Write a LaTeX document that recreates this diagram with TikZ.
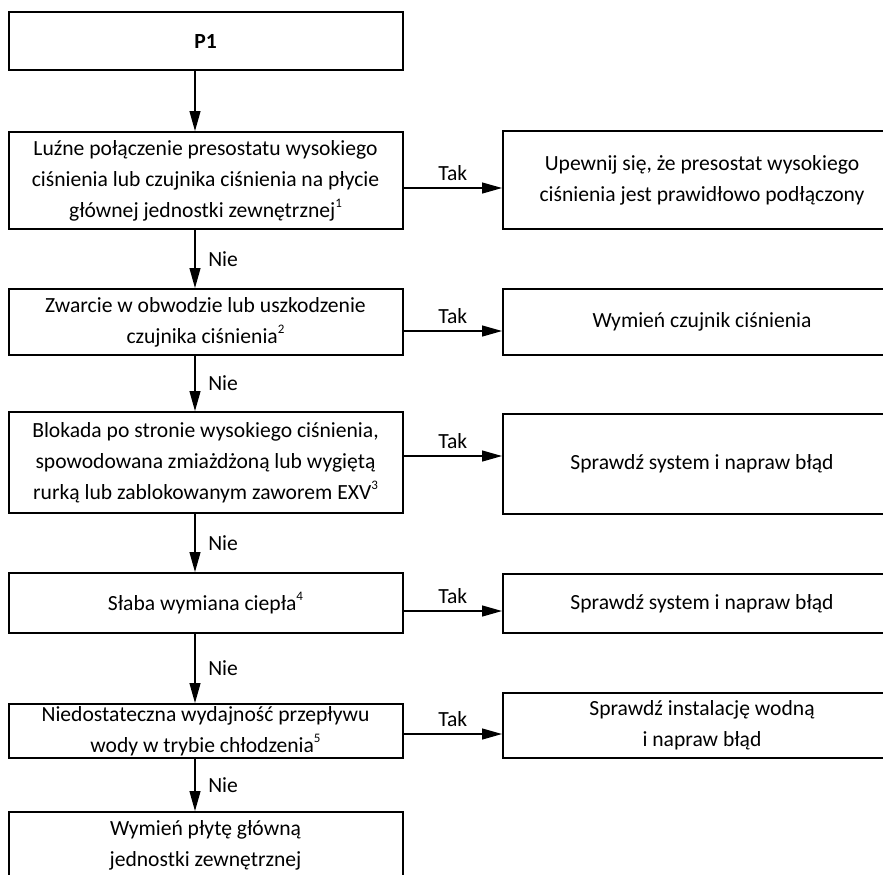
\documentclass[tikz,border=0pt]{standalone}
\usepackage{fontspec}
\setmainfont{Carlito}
\usetikzlibrary{arrows.meta}
\newcommand{\fnote}[1]{\raisebox{0.9ex}{\fontsize{6.5}{6.5}\selectfont #1}}

\begin{document}
\begin{tikzpicture}[x=0.5pt,y=-0.5pt,
        box/.style={draw,line width=1pt,align=center,inner sep=0pt,font=\fontsize{10.8}{15.5}\selectfont},
        lbox/.style={box,minimum width=197pt},
        rbox/.style={box,minimum width=199pt},
        flow/.style={-{Triangle[length=10pt,width=5.5pt]},line width=0.6pt},
        lbl/.style={font=\fontsize{10.8}{12}\selectfont}]
        \clip (0,0) rectangle (883,874);
        \coordinate (axis) at (195,0);

        % main column
        \node [lbox,minimum height=29pt] (0) at (205.5,41) {\textbf{P1}};
        \node [lbox,minimum height=48.5pt] (1) at (205.5,180.5) {Luźne połączenie presostatu wysokiego\\ciśnienia lub czujnika ciśnienia na płycie\\głównej jednostki zewnętrznej\fnote{1}};
        \node [lbox,minimum height=33pt] (2) at (205.5,322) {Zwarcie w obwodzie lub uszkodzenie\\czujnika ciśnienia\fnote{2}};
        \node [lbox,minimum height=50.5pt] (3) at (205.5,462.5) {Blokada po stronie wysokiego ciśnienia,\\spowodowana zmiażdżoną lub wygiętą\\rurką lub zablokowanym zaworem EXV\fnote{3}};
        \node [lbox,minimum height=30pt] (4) at (205.5,603) {Słaba wymiana ciepła\fnote{4}};
        \node [lbox,minimum height=27pt] (5) at (205.5,731) {Niedostateczna wydajność przepływu\\wody w trybie chłodzenia\fnote{5}};
        \node [lbox,minimum height=33pt] (6) at (205.5,845) {Wymień płytę główną\\jednostki zewnętrznej};

        % actions
        \node [rbox,minimum height=49pt] (7) at (702,180) {Upewnij się, że presostat wysokiego\\ciśnienia jest prawidłowo podłączony};
        \node [rbox,minimum height=33pt] (8) at (702,322) {Wymień czujnik ciśnienia};
        \node [rbox,minimum height=50pt] (9) at (702,464) {Sprawdź system i napraw błąd};
        \node [rbox,minimum height=29.5pt] (10) at (702,603.5) {Sprawdź system i napraw błąd};
        \node [rbox,minimum height=32.5pt] (11) at (702,725.5) {Sprawdź instalację wodną\\i napraw błąd};

        \draw[flow] (0.south -| axis) to (1.north -| axis);
        \draw[flow] (1.south -| axis) to node[lbl,right,xshift=3pt] {Nie} (2.north -| axis);
        \draw[flow] (2.south -| axis) to node[lbl,right,xshift=3pt] {Nie} (3.north -| axis);
        \draw[flow] (3.south -| axis) to node[lbl,right,xshift=3pt] {Nie} (4.north -| axis);
        \draw[flow] (4.south -| axis) to node[lbl,right,xshift=3pt] {Nie} (5.north -| axis);
        \draw[flow] (5.south -| axis) to node[lbl,right,xshift=3pt] {Nie} (6.north -| axis);

        \draw[flow] (1.east |- 0,188) to node[lbl,above] {Tak} (7.west |- 0,188);
        \draw[flow] (2.east |- 0,331) to node[lbl,above] {Tak} (8.west |- 0,331);
        \draw[flow] (3.east |- 0,456) to node[lbl,above] {Tak} (9.west |- 0,456);
        \draw[flow] (4.east |- 0,611) to node[lbl,above] {Tak} (10.west |- 0,611);
        \draw[flow] (5.east |- 0,734) to node[lbl,above] {Tak} (11.west |- 0,734);
        \end{tikzpicture}
\end{document}
